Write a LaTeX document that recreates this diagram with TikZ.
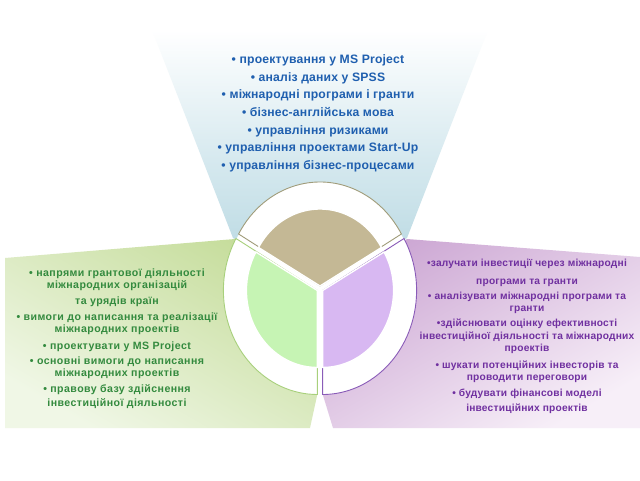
\documentclass[tikz,border=0pt]{standalone}
\usepackage{fontspec}
\setmainfont{Liberation Sans}
\usetikzlibrary{calc}
\definecolor{txtblue}{HTML}{1F5FAF}
\definecolor{txtgreen}{HTML}{338A3E}
\definecolor{txtpurple}{HTML}{7030A0}
\definecolor{bgblue}{HTML}{B3D5DF}
\definecolor{bgbluemid}{HTML}{D6E9EF}
\definecolor{bggreendark}{HTML}{C6DD9C}
\definecolor{bggreenlight}{HTML}{F0F7E6}
\definecolor{bgpurpdark}{HTML}{CDA8D4}
\definecolor{bgpurplight}{HTML}{F7EFF8}
\definecolor{pietop}{HTML}{C4B895}
\definecolor{pieleft}{HTML}{C6F4B4}
\definecolor{pieright}{HTML}{D8B8F2}
\definecolor{ringtop}{HTML}{A09C7A}
\definecolor{ringleft}{HTML}{A8D07C}
\definecolor{ringright}{HTML}{8A5CB8}
\begin{document}
\begin{tikzpicture}[x=1pt,y=-1pt,
  toptxt/.style={font=\bfseries\fontsize{12.2}{14}\selectfont\addfontfeatures{LetterSpace=1.5}, text=txtblue, anchor=base, inner sep=0pt},
  greentxt/.style={font=\bfseries\fontsize{10.6}{12}\selectfont\addfontfeatures{LetterSpace=4}, text=txtgreen, anchor=base, inner sep=0pt},
  purptxt/.style={font=\bfseries\fontsize{10.2}{12}\selectfont\addfontfeatures{LetterSpace=2}, text=txtpurple, anchor=base, inner sep=0pt},
  ringseg/.style={fill=white, line width=0.9pt},
  pieseg/.style={draw=white, line width=1.4pt}]
\useasboundingbox (0,0) rectangle (640,480);
\fill[white] (0,0) rectangle (640,480);
% background regions
\shade[top color=white, bottom color=bgblue, middle color=bgbluemid]
  (152,30) -- (488,30) -- (407,238) -- (320,289) -- (233,238) -- cycle;
\shade[top color=bggreendark, bottom color=bggreenlight, shading angle=-30]
  (5,258) -- (235,239) -- (318,300) -- (317.4,394) -- (310,428) -- (5,428) -- cycle;
\shade[top color=bgpurpdark, bottom color=bgpurplight, shading angle=30]
  (407,239) -- (640,257) -- (640,428) -- (333,428) -- (322.6,394) -- (322,300) -- cycle;
% white disc behind the ring
\coordinate (C) at (320,289);
\fill[white] (C) ellipse[x radius=95, y radius=105];
% circle centres of the exploded segments
\coordinate (Ct) at (320,286);
\coordinate (Cl) at (317.4,290.5);
\coordinate (Cr) at (322.6,290.5);
% ring segments
\path[ringseg, draw=ringtop] (Ct) -- ($(Ct)+(-150:94 and 104)$)
  arc[start angle=-150, end angle=-30, x radius=94, y radius=104] -- cycle;
\path[ringseg, draw=ringleft] (Cl) -- ($(Cl)+(90:94 and 104)$)
  arc[start angle=90, end angle=210, x radius=94, y radius=104] -- cycle;
\path[ringseg, draw=ringright] (Cr) -- ($(Cr)+(-30:94 and 104)$)
  arc[start angle=-30, end angle=90, x radius=94, y radius=104] -- cycle;
% pie slices
\path[pieseg, fill=pietop] (Ct) -- ($(Ct)+(-150:71 and 77)$)
  arc[start angle=-150, end angle=-30, x radius=71, y radius=77] -- cycle;
\path[pieseg, fill=pieleft] (Cl) -- ($(Cl)+(90:71 and 77)$)
  arc[start angle=90, end angle=210, x radius=71, y radius=77] -- cycle;
\path[pieseg, fill=pieright] (Cr) -- ($(Cr)+(-30:71 and 77)$)
  arc[start angle=-30, end angle=90, x radius=71, y radius=77] -- cycle;
% top texts
\foreach \yy/\tt [count=\i] in {
  59/{• проектування у MS Project},
  77/{• аналіз даних у SPSS},
  94/{• міжнародні програми і гранти},
  112/{• бізнес-англійська мова},
  130/{• управління ризиками},
  147/{• управління проектами Start-Up},
  165/{• управління бізнес-процесами}}
  \node[toptxt] (t\i) at ({318},{\yy+4}) {\tt};
% green texts
\foreach \yy/\tt [count=\i] in {
  273/{• напрями грантової діяльності},
  285/{міжнародних організацій},
  301/{та урядів країн},
  317/{• вимоги до написання та реалізації},
  329/{міжнародних проектів},
  346/{• проектувати у MS Project},
  361/{• основні вимоги до написання},
  373/{міжнародних проектів},
  389/{• правову базу здійснення},
  403/{інвестиційної діяльності}}
  \node[greentxt] (g\i) at ({117},{\yy+3.5}) {\tt};
% purple texts
\foreach \yy/\tt [count=\i] in {
  263/{•залучати інвестиції через міжнародні},
  281/{програми та гранти},
  296/{• аналізувати міжнародні програми та},
  308/{гранти},
  323/{•здійснювати оцінку ефективності},
  336/{інвестиційної діяльності та міжнародних},
  348/{проектів},
  365/{• шукати потенційних інвесторів та},
  377/{проводити переговори},
  393/{• будувати фінансові моделі},
  408/{інвестиційних проектів}}
  \node[purptxt] (p\i) at ({527},{\yy+3.5}) {\tt};
\end{tikzpicture}
\end{document}
